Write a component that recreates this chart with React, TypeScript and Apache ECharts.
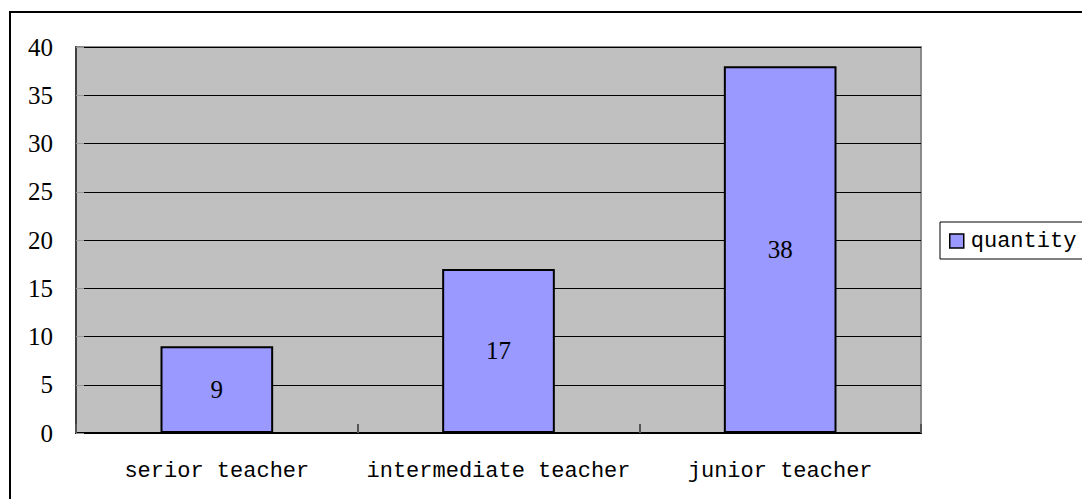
import React, { useEffect, useRef } from "react";
import * as echarts from "echarts";

const categories = ["serior teacher", "intermediate teacher", "junior teacher"];
const quantity = [9, 17, 38];
const seriesName = "quantity";
const yMin = 0;
const yMax = 40;
const yStep = 5;

export default function App() {
  const ref = useRef<HTMLDivElement>(null);
  useEffect(() => {
    if (!ref.current) return;
    const chart = echarts.init(ref.current, null, { renderer: "svg" });
    const serif = "'Liberation Serif', 'DejaVu Serif', serif";
    const mono = "'Liberation Mono', 'DejaVu Sans Mono', monospace";
    chart.setOption({
      animation: false,
      backgroundColor: "#ffffff",
      graphic: [
        {
          type: "rect",
          shape: { x: 10, y: 12, width: 1200, height: 600 },
          style: { fill: "none", stroke: "#000000", lineWidth: 2 },
          z: 100,
        },
      ],
      grid: {
        left: 76,
        top: 47,
        right: 161,
        bottom: 66,
        show: true,
        backgroundColor: "#c0c0c0",
        borderColor: "#8a8a8a",
        borderWidth: 2,
      },
      legend: {
        show: true,
        left: 940,
        top: 222,
        orient: "vertical",
        padding: [8, 10, 7, 9],
        borderColor: "#000000",
        borderWidth: 1,
        backgroundColor: "#ffffff",
        itemWidth: 14,
        itemHeight: 14,
        itemGap: 0,
        icon: "rect",
        textStyle: { fontFamily: mono, fontSize: 22, color: "#000", padding: [0, 0, 0, 2] },
        data: [{ name: seriesName, itemStyle: { borderColor: "#000", borderWidth: 1.5 } }],
      },
      xAxis: {
        type: "category",
        data: categories,
        axisLine: { show: true, lineStyle: { color: "#000000", width: 2 } },
        axisTick: {
          show: true,
          inside: true,
          length: 9,
          interval: 0,
          alignWithLabel: false,
          lineStyle: { color: "#555555", width: 2 },
        },
        axisLabel: {
          interval: 0,
          fontFamily: mono,
          fontSize: 22,
          color: "#000",
          margin: 27,
        },
      },
      yAxis: {
        type: "value",
        min: yMin,
        max: yMax,
        interval: yStep,
        axisLine: { show: true, lineStyle: { color: "#404040", width: 2 } },
        axisTick: { show: true, inside: true, length: 8, lineStyle: { color: "#999999", width: 1 } },
        splitLine: { show: true, lineStyle: { color: "#000000", width: 1 } },
        axisLabel: { fontFamily: serif, fontSize: 25, color: "#000", margin: 23 },
      },
      series: [
        {
          name: seriesName,
          type: "bar",
          data: quantity,
          barWidth: "40%",
          itemStyle: { color: "#9999ff", borderColor: "#000000", borderWidth: 2 },
          label: {
            show: true,
            position: "inside",
            fontFamily: serif,
            fontSize: 25,
            color: "#000",
          },
        },
      ],
    });
    return () => chart.dispose();
  }, []);
  return (
    <div
      ref={ref}
      style={{ position: "fixed", left: 0, top: 0, width: 1082, height: 499 }}
    />
  );
}
